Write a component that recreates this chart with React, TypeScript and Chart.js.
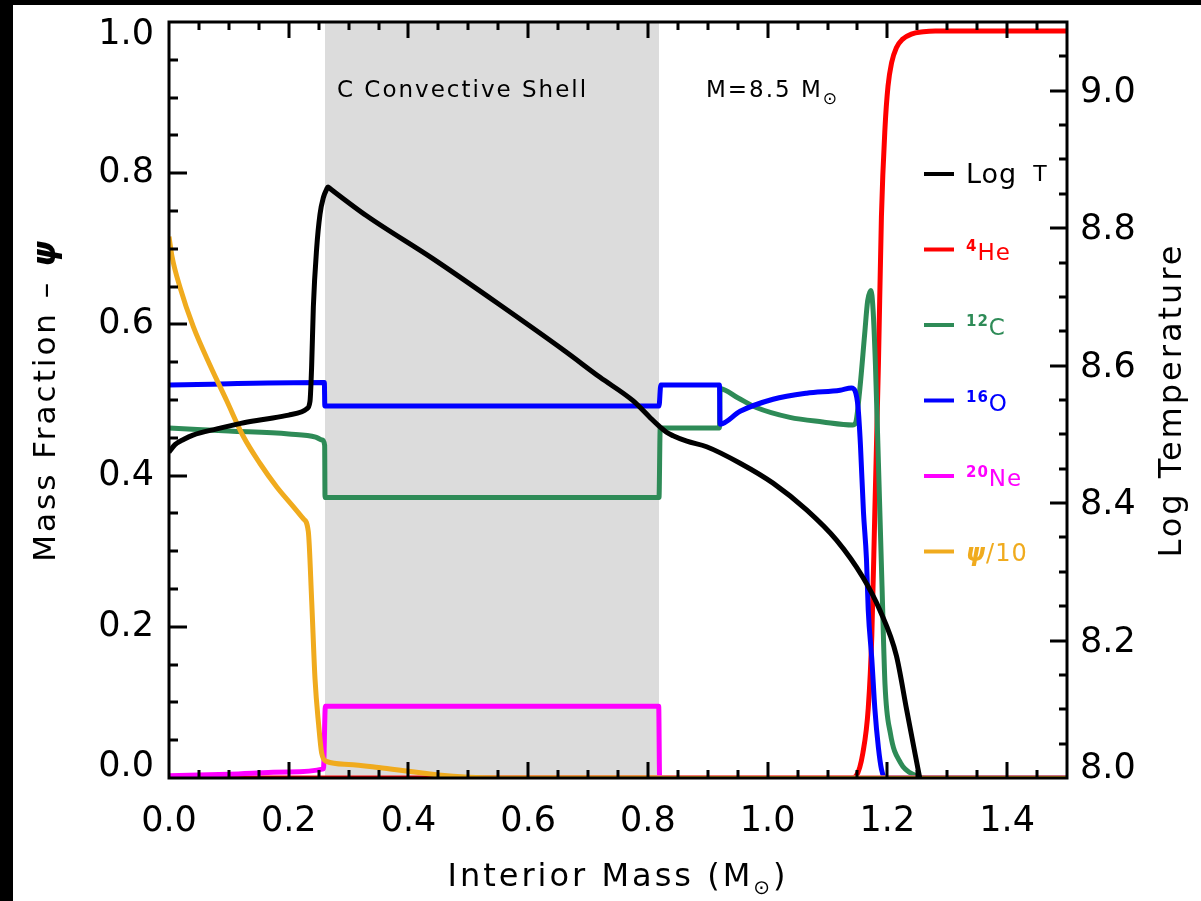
import React, { useEffect, useRef } from "react";
import { Chart, registerables } from "chart.js";

Chart.register(...registerables);

const W = 1201;
const H = 901;
const FONT = '"DejaVu Sans", "Liberation Sans", sans-serif';

// ---------- data ----------
// Log T (right axis)
const logTMass = [0, 0.01, 0.025, 0.04, 0.08, 0.12, 0.16, 0.2, 0.222, 0.23, 0.2355, 0.2383, 0.2411, 0.2466, 0.2522, 0.258, 0.263, 0.2656, 0.2685, 0.33, 0.44, 0.55, 0.66, 0.72, 0.775, 0.803, 0.82, 0.831, 0.842, 0.865, 0.898, 0.954, 1.009, 1.065, 1.115, 1.159, 1.188, 1.215, 1.232, 1.254];
const logTValues = [8.474, 8.485, 8.493, 8.499, 8.508, 8.516, 8.522, 8.528, 8.533, 8.537, 8.548, 8.6, 8.685, 8.77, 8.82, 8.845, 8.856, 8.86, 8.858, 8.818, 8.756, 8.69, 8.622, 8.583, 8.549, 8.525, 8.511, 8.503, 8.498, 8.49, 8.482, 8.458, 8.429, 8.39, 8.346, 8.292, 8.243, 8.178, 8.1, 8.0];

// 4He
const heMass = [0, 1.14, 1.148, 1.159, 1.168, 1.174, 1.179, 1.185, 1.19, 1.196, 1.201, 1.207, 1.215, 1.225, 1.24, 1.26, 1.28, 1.5];
const heFrac = [0, 0, 0.003, 0.033, 0.092, 0.189, 0.352, 0.547, 0.742, 0.86, 0.915, 0.946, 0.966, 0.977, 0.984, 0.987, 0.988, 0.988];

// 12C
const cMass = [0, 0.1, 0.2, 0.245, 0.256, 0.26, 0.2606, 0.8185, 0.8205, 0.9195, 0.9205, 0.95, 0.981, 1.037, 1.092, 1.142, 1.147, 1.154, 1.162, 1.167, 1.1725, 1.176, 1.18, 1.185, 1.191, 1.196, 1.205, 1.222, 1.245, 1.265, 1.5];
const cFrac = [0.463, 0.459, 0.455, 0.451, 0.447, 0.44, 0.371, 0.371, 0.463, 0.463, 0.515, 0.503, 0.49, 0.477, 0.471, 0.467, 0.47, 0.515, 0.587, 0.631, 0.645, 0.62, 0.547, 0.417, 0.254, 0.124, 0.059, 0.02, 0.004, 0.0, 0.0];

// 16O
const oMass = [0, 0.2595, 0.2603, 0.8185, 0.8215, 0.9195, 0.9205, 0.954, 1.009, 1.065, 1.121, 1.14, 1.146, 1.151, 1.155, 1.16, 1.165, 1.168, 1.174, 1.179, 1.185, 1.19, 1.196, 1.5];
const oFrac = [0.52, 0.523, 0.492, 0.492, 0.52, 0.52, 0.468, 0.485, 0.501, 0.509, 0.513, 0.516, 0.512, 0.49, 0.44, 0.352, 0.29, 0.222, 0.157, 0.092, 0.04, 0.012, 0.0, 0.0];

// 20Ne
const neMass = [0, 0.1, 0.2, 0.258, 0.2612, 0.818, 0.8195, 1.5];
const neFrac = [0.003, 0.005, 0.008, 0.012, 0.095, 0.095, 0.0, 0.0];

// psi / 10
const psiMass = [0, 0.005, 0.0184, 0.0406, 0.0685, 0.0964, 0.124, 0.152, 0.18, 0.2076, 0.2243, 0.2327, 0.2383, 0.2439, 0.25, 0.255, 0.263, 0.3, 0.35, 0.4, 0.45, 0.5, 0.55, 1.5];
const psiValues = [0.716, 0.69, 0.649, 0.597, 0.546, 0.499, 0.452, 0.416, 0.385, 0.359, 0.343, 0.326, 0.235, 0.131, 0.07, 0.033, 0.022, 0.018, 0.014, 0.009, 0.004, 0.001, 0.0, 0.0];

// convective shell extent
const shellRange = [0.2606, 0.8185];

// ticks
const xMajorTicks = [0.0, 0.2, 0.4, 0.6, 0.8, 1.0, 1.2, 1.4];
const leftMajorTicks = [0.0, 0.2, 0.4, 0.6, 0.8, 1.0];
const rightMajorTicks = [8.0, 8.2, 8.4, 8.6, 8.8, 9.0];
const xRange = [0, 1.5];
const leftRange = [0, 1.0];
const rightRange = [8.0, 9.1];
const minorStep = 0.05;

// legend
const legendSup = ["", "4", "12", "16", "20", ""];
const legendBase = ["Log T", "He", "C", "O", "Ne", "ψ/10"];

const COLORS = {
  T: "#000000",
  He: "#ff0000",
  C: "#2e8b57",
  O: "#0000ff",
  Ne: "#ff00ff",
  psi: "#f0ab1e",
  shell: "#dcdcdc",
};

function pts(xs: number[], ys: number[]) {
  return xs.map((x, i) => ({ x, y: ys[i] }));
}

function minorList(lo: number, hi: number, step: number) {
  const out: number[] = [];
  const n = Math.round((hi - lo) / step);
  for (let i = 0; i <= n; i++) out.push(+(lo + i * step).toFixed(4));
  return out;
}

type Part = { t: string; font: string; dy?: number; color?: string };

function partsWidth(ctx: CanvasRenderingContext2D, parts: Part[]) {
  let w = 0;
  for (const p of parts) {
    ctx.font = p.font;
    w += ctx.measureText(p.t).width;
  }
  return w;
}

function drawParts(ctx: CanvasRenderingContext2D, parts: Part[], x: number, y: number, align: "left" | "center", color: string) {
  ctx.textAlign = "left";
  ctx.textBaseline = "alphabetic";
  let cx = align === "center" ? x - partsWidth(ctx, parts) / 2 : x;
  for (const p of parts) {
    ctx.font = p.font;
    ctx.fillStyle = p.color || color;
    ctx.fillText(p.t, cx, y + (p.dy || 0));
    cx += ctx.measureText(p.t).width;
  }
}

const decorPlugin = {
  id: "decor",
  beforeDraw(chart: any) {
    const { ctx, width, height, chartArea } = chart;
    ctx.save();
    ctx.fillStyle = "#ffffff";
    ctx.fillRect(0, 0, width, height);
    ctx.fillStyle = "#000000";
    ctx.fillRect(0, 0, width, 5);
    ctx.fillRect(0, 0, 13, height);
    const xs = chart.scales.x;
    const x0 = xs.getPixelForValue(shellRange[0]);
    const x1 = xs.getPixelForValue(shellRange[1]);
    ctx.fillStyle = COLORS.shell;
    ctx.fillRect(x0, chartArea.top, x1 - x0, chartArea.bottom - chartArea.top);
    ctx.restore();
  },
  afterDraw(chart: any) {
    const { ctx, chartArea } = chart;
    const { left, right, top, bottom } = chartArea;
    const xs = chart.scales.x;
    const yl = chart.scales.y;
    const yr = chart.scales.y2;
    ctx.save();
    ctx.strokeStyle = "#000";
    ctx.lineWidth = 3;
    ctx.lineCap = "butt";
    // frame
    ctx.strokeRect(left, top, right - left, bottom - top);

    const isMajor = (v: number, majors: number[]) => majors.some((m) => Math.abs(m - v) < 1e-6);
    ctx.beginPath();
    for (const v of minorList(xRange[0], xRange[1], minorStep)) {
      if (v <= xRange[0] || v >= xRange[1]) continue;
      const len = isMajor(v, xMajorTicks) ? 16 : 8;
      const px = Math.round(xs.getPixelForValue(v));
      ctx.moveTo(px, bottom);
      ctx.lineTo(px, bottom - len);
      ctx.moveTo(px, top);
      ctx.lineTo(px, top + len);
    }
    for (const v of minorList(leftRange[0], leftRange[1], minorStep)) {
      if (v <= leftRange[0] || v >= leftRange[1]) continue;
      const len = isMajor(v, leftMajorTicks) ? 18 : 9;
      const py = Math.round(yl.getPixelForValue(v));
      ctx.moveTo(left, py);
      ctx.lineTo(left + len, py);
    }
    for (const v of minorList(rightRange[0], rightRange[1], minorStep)) {
      if (v <= rightRange[0] + 1e-6 || v >= rightRange[1] - 1e-6) continue;
      const len = isMajor(v, rightMajorTicks) ? 17 : 8;
      const py = Math.round(yr.getPixelForValue(v));
      ctx.moveTo(right, py);
      ctx.lineTo(right - len, py);
    }
    ctx.stroke();

    // y tick labels (end labels kept inside the frame, IDL style)
    ctx.fillStyle = "#000";
    ctx.font = `35px ${FONT}`;
    ctx.textBaseline = "middle";
    const clampY = (py: number) => Math.min(Math.max(py, top + 13), bottom - 11);
    ctx.textAlign = "right";
    for (const v of leftMajorTicks) {
      ctx.fillText(v.toFixed(1), left - 15, clampY(yl.getPixelForValue(v)));
    }
    ctx.textAlign = "left";
    for (const v of rightMajorTicks) {
      ctx.fillText(v.toFixed(1), right + 13, clampY(yr.getPixelForValue(v)) + 2);
    }

    // annotations
    (ctx as any).letterSpacing = "2px";
    drawParts(ctx, [{ t: "C Convective Shell", font: `23px ${FONT}` }], 337, 97, "left", "#000");
    drawParts(
      ctx,
      [
        { t: "M=8.5 M", font: `23px ${FONT}` },
        { t: "⊙", font: `17px ${FONT}`, dy: 7 },
      ],
      706,
      97,
      "left",
      "#000"
    );

    // legend
    const legendY0 = 174;
    const legendDy = 75.5;
    chart.data.datasets.forEach((ds: any, i: number) => {
      const y = legendY0 + i * legendDy;
      ctx.strokeStyle = ds.borderColor;
      ctx.lineWidth = 4;
      ctx.beginPath();
      ctx.moveTo(924, y);
      ctx.lineTo(954, y);
      ctx.stroke();
      (ctx as any).letterSpacing = "1px";
      const base = legendBase[i];
      const sup = legendSup[i];
      if (i === 0) {
        drawParts(
          ctx,
          [
            { t: "Log", font: `27px ${FONT}` },
            { t: "  T", font: `22px ${FONT}`, dy: -2 },
          ],
          966,
          y + 9,
          "left",
          ds.borderColor
        );
      } else if (base.startsWith("ψ")) {
        drawParts(
          ctx,
          [
            { t: "ψ", font: `italic bold 24px ${FONT}` },
            { t: base.slice(1), font: `24px ${FONT}` },
          ],
          966,
          y + 9,
          "left",
          ds.borderColor
        );
      } else {
        drawParts(
          ctx,
          [
            { t: sup, font: `bold 15px ${FONT}`, dy: -9 },
            { t: base, font: `23px ${FONT}` },
          ],
          966,
          y + 10,
          "left",
          ds.borderColor
        );
      }
    });

    // x title
    (ctx as any).letterSpacing = "3px";
    drawParts(
      ctx,
      [
        { t: "Interior Mass (M", font: `32px ${FONT}` },
        { t: "⊙", font: `20px ${FONT}`, dy: 8 },
        { t: ")", font: `32px ${FONT}` },
      ],
      (left + right) / 2,
      886,
      "center",
      "#000"
    );

    // left title
    ctx.save();
    ctx.translate(55, (top + bottom) / 2);
    ctx.rotate(-Math.PI / 2);
    drawParts(
      ctx,
      [
        { t: "Mass Fraction – ", font: `31px ${FONT}` },
        { t: "ψ", font: `italic bold 32px ${FONT}` },
      ],
      0,
      0,
      "center",
      "#000"
    );
    ctx.restore();

    // right title
    ctx.save();
    ctx.translate(1181, (top + bottom) / 2);
    ctx.rotate(-Math.PI / 2);
    drawParts(ctx, [{ t: "Log Temperature", font: `32px ${FONT}` }], 0, 0, "center", "#000");
    ctx.restore();

    ctx.restore();
  },
};

function zeroPad(s: any) {
  s.paddingTop = 0;
  s.paddingBottom = 0;
  s.paddingLeft = 0;
  s.paddingRight = 0;
}

export default function App() {
  const ref = useRef<HTMLCanvasElement>(null);

  useEffect(() => {
    const canvas = ref.current;
    if (!canvas) return;
    const base = {
      pointRadius: 0,
      borderWidth: 5,
      cubicInterpolationMode: "monotone" as const,
      fill: false,
      borderJoinStyle: "round" as const,
    };
    const chart = new Chart(canvas, {
      type: "line",
      data: {
        datasets: [
          { ...base, label: legendSup[0] + legendBase[0], data: pts(logTMass, logTValues), borderColor: COLORS.T, yAxisID: "y2", order: 0 },
          { ...base, label: legendSup[1] + legendBase[1], data: pts(heMass, heFrac), borderColor: COLORS.He, yAxisID: "y", order: 5 },
          { ...base, label: legendSup[2] + legendBase[2], data: pts(cMass, cFrac), borderColor: COLORS.C, yAxisID: "y", order: 4 },
          { ...base, label: legendSup[3] + legendBase[3], data: pts(oMass, oFrac), borderColor: COLORS.O, yAxisID: "y", order: 3 },
          { ...base, label: legendSup[4] + legendBase[4], data: pts(neMass, neFrac), borderColor: COLORS.Ne, yAxisID: "y", order: 2 },
          { ...base, label: legendSup[5] + legendBase[5], data: pts(psiMass, psiValues), borderColor: COLORS.psi, yAxisID: "y", order: 1 },
        ],
      },
      options: {
        responsive: false,
        animation: false,
        devicePixelRatio: 1,
        layout: { padding: { top: 22, left: 0, right: 0, bottom: 0 } },
        plugins: { legend: { display: false }, tooltip: { enabled: false } },
        scales: {
          x: {
            type: "linear",
            position: "bottom",
            min: xRange[0],
            max: xRange[1],
            grid: { display: false, drawTicks: false },
            border: { display: false },
            ticks: {
              autoSkip: false,
              maxRotation: 0,
              padding: 23,
              color: "#000",
              font: { family: FONT, size: 35 },
              callback: (v: any) => Number(v).toFixed(1),
            },
            afterBuildTicks: (s: any) => {
              s.ticks = xMajorTicks.map((v) => ({ value: v }));
            },
            afterFit: (s: any) => {
              s.height = 123;
              zeroPad(s);
            },
          },
          y: {
            type: "linear",
            position: "left",
            min: leftRange[0],
            max: leftRange[1],
            grid: { display: false, drawTicks: false },
            border: { display: false },
            ticks: { display: false },
            afterBuildTicks: (s: any) => {
              s.ticks = leftMajorTicks.map((v) => ({ value: v }));
            },
            afterFit: (s: any) => {
              s.width = 169;
              zeroPad(s);
            },
          },
          y2: {
            type: "linear",
            position: "right",
            min: rightRange[0],
            max: rightRange[1],
            grid: { display: false, drawTicks: false },
            border: { display: false },
            ticks: { display: false },
            afterBuildTicks: (s: any) => {
              s.ticks = rightMajorTicks.map((v) => ({ value: v }));
            },
            afterFit: (s: any) => {
              s.width = 134;
              zeroPad(s);
            },
          },
        },
      } as any,
      plugins: [decorPlugin],
    });
    return () => chart.destroy();
  }, []);

  return (
    <div style={{ position: "fixed", left: 0, top: 0, width: W, height: H, background: "#fff" }}>
      <canvas ref={ref} width={W} height={H} style={{ width: W, height: H, display: "block" }} />
    </div>
  );
}
